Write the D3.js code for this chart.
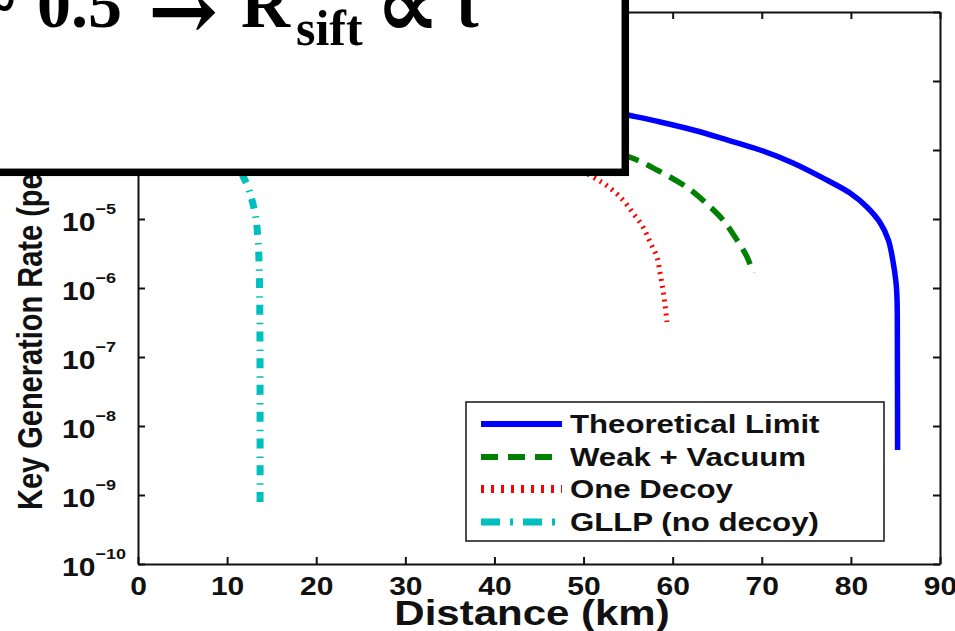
<!DOCTYPE html>
<html>
<head>
<meta charset="utf-8">
<script src="https://cdn.jsdelivr.net/npm/d3@7"></script>
<style>
  body { margin: 0; background: #fff; }
  svg { display: block; }
  .lab { font-family: "Liberation Sans", Arial, Helvetica, sans-serif; font-weight: bold; fill: #111; }
</style>
</head>
<body>
<svg id="chart" width="955" height="631"></svg>
<script>
// Key generation rate (per pulse) against fibre distance (km)
const distanceTicks = [0, 10, 20, 30, 40, 50, 60, 70, 80, 90];
const rateTickExponents = [-10, -9, -8, -7, -6, -5, -4, -3, -2];

const seriesNames = ["Theoretical Limit", "Weak + Vacuum", "One Decoy", "GLLP (no decoy)"];

// [distance km, key rate]
const theoreticalLimit = [
  [0, 6.31e-3], [10, 3.55e-3], [20, 2.09e-3], [30, 1.26e-3], [40, 7.94e-4],
  [50, 4.37e-4], [55.0, 3.21e-4], [58.6, 2.55e-4], [62.3, 1.95e-4], [66.1, 1.40e-4],
  [69.8, 1.00e-4], [73.5, 6.49e-5], [77.3, 3.67e-5], [79.9, 2.38e-5],
  [81.8, 1.49e-5], [83.3, 8.75e-6], [84.2, 4.97e-6], [84.7, 2.55e-6],
  [85.07, 1.18e-6], [85.18, 6.70e-7], [85.22, 1.0e-7], [85.24, 4.49e-9]
];
const weakVacuum = [
  [0, 2.00e-3], [10, 1.12e-3], [20, 6.31e-4], [30, 3.72e-4], [40, 2.19e-4],
  [50, 1.26e-4], [55.44, 7.66e-5], [58.24, 5.13e-5], [61.72, 2.81e-5],
  [63.97, 1.60e-5], [65.65, 9.68e-6], [67.0, 5.48e-6], [68.35, 2.81e-6],
  [69.02, 1.65e-6]
];
const oneDecoy = [
  [0, 1.26e-3], [10, 7.08e-4], [20, 3.98e-4], [30, 2.29e-4], [40, 1.26e-4],
  [47, 7.59e-5], [51.06, 4.06e-5], [52.97, 2.81e-5], [54.43, 1.88e-5],
  [55.55, 1.22e-5], [56.67, 7.66e-6], [57.46, 4.65e-6], [58.24, 2.81e-6],
  [58.58, 1.65e-6], [58.92, 9.35e-7], [59.14, 5.68e-7], [59.36, 3.21e-7]
];
const gllpNoDecoy = [
  [0, 5.01e-4], [4, 3.55e-4], [8, 2.00e-4], [10.5, 1.00e-4], [11.78, 4.20e-5],
  [12.34, 2.91e-5], [13.13, 1.22e-5], [13.47, 4.97e-6], [13.6, 2.00e-6],
  [13.68, 2.51e-7], [13.7, 7.59e-10]
];

const svg = d3.select("#chart");
const W = 955, H = 631;
const plot = { left: 138, right: 940, top: 12, bottom: 564 };

const x = d3.scaleLinear().domain([0, 90]).range([plot.left, plot.right]);
const y = d3.scaleLog().domain([1e-10, 1e-2]).range([plot.bottom, plot.top]);

svg.append("rect").attr("width", W).attr("height", H).attr("fill", "#fff");

// widen glyphs horizontally about the text anchor
function widen(sel, k) {
  sel.each(function () {
    const t = d3.select(this);
    const ax = +t.attr("x") || 0;
    t.attr("transform", `translate(${ax * (1 - k)},0) scale(${k},1)`);
  });
}
const K = 1.2;

svg.append("defs").append("clipPath").attr("id", "plotClip")
  .append("rect")
  .attr("x", plot.left).attr("y", plot.top)
  .attr("width", plot.right - plot.left).attr("height", plot.bottom - plot.top);

// Axes (ticks point inward on all four sides)
const axisStyle = g => {
  g.select(".domain").attr("stroke", "#111").attr("stroke-width", 2);
  g.selectAll(".tick line").attr("stroke", "#111").attr("stroke-width", 2);
};

const gx = svg.append("g")
  .attr("transform", `translate(0,${plot.bottom})`)
  .call(d3.axisBottom(x).tickValues(distanceTicks).tickSizeInner(-7).tickSizeOuter(0).tickPadding(31))
  .call(axisStyle);
gx.selectAll(".tick text")
  .attr("class", "lab").attr("font-size", 25).attr("dy", null).attr("y", 31).attr("x", 0)
  .attr("font-family", null)
  .call(widen, K);

svg.append("g")
  .attr("transform", `translate(0,${plot.top})`)
  .call(d3.axisTop(x).tickValues(distanceTicks).tickSizeInner(-7).tickSizeOuter(0).tickFormat(""))
  .call(axisStyle);

const yTickValues = rateTickExponents.map(e => Math.pow(10, e));
const gy = svg.append("g")
  .attr("transform", `translate(${plot.left},0)`)
  .call(d3.axisLeft(y).tickValues(yTickValues).tickSizeInner(-7).tickSizeOuter(0))
  .call(axisStyle);
gy.selectAll(".tick text").each(function (d) {
  const t = d3.select(this);
  const e = Math.round(Math.log10(d));
  t.text(null)
    .attr("class", "lab").attr("font-family", null)
    .attr("text-anchor", "start").attr("x", -76).attr("y", 11).attr("dy", null)
    .attr("font-size", 25);
  t.append("tspan").text("10");
  t.append("tspan").attr("dy", -17).attr("font-size", 15).text("\u2212" + Math.abs(e));
}).call(widen, K);

svg.append("g")
  .attr("transform", `translate(${plot.right},0)`)
  .call(d3.axisRight(y).tickValues(yTickValues).tickSizeInner(-7).tickSizeOuter(0).tickFormat(""))
  .call(axisStyle);

// Axis titles
svg.append("text").attr("class", "lab")
  .attr("x", 532).attr("y", 625).attr("text-anchor", "middle").attr("font-size", 35)
  .text("Distance (km)")
  .call(widen, K);

svg.append("text").attr("class", "lab")
  .attr("transform", "translate(42,510) rotate(-90) scale(1,1.2)")
  .attr("font-size", 29)
  .text("Key Generation Rate (per pulse)");

// Curves
const series = [
  { name: seriesNames[0], data: theoreticalLimit, color: "#0000ff", width: 5.5, dash: null,
    legendWidth: 6, legendDash: null },
  { name: seriesNames[1], data: weakVacuum, color: "#008000", width: 5.5, dash: "17,9",
    legendWidth: 6, legendDash: "17,10" },
  { name: seriesNames[2], data: oneDecoy, color: "#ff0000", width: 5, dash: "2,5",
    legendWidth: 8, legendDash: "3,7" },
  { name: seriesNames[3], data: gllpNoDecoy, color: "#00bfbf", width: 7, dash: "10,8,1.5,7.2",
    legendWidth: 7, legendDash: "19,10,3,10" }
];

const line = d3.line()
  .x(d => x(d[0]))
  .y(d => y(d[1]))
  .curve(d3.curveCatmullRom.alpha(0.5));

const curves = svg.append("g").attr("clip-path", "url(#plotClip)");
series.forEach(s => {
  curves.append("path")
    .attr("d", line(s.data))
    .attr("fill", "none")
    .attr("stroke", s.color)
    .attr("stroke-width", s.width)
    .attr("stroke-dasharray", s.dash)
    .attr("stroke-linejoin", "round");
});

// Legend
const lg = svg.append("g");
lg.append("rect")
  .attr("x", 466).attr("y", 402).attr("width", 418).attr("height", 139)
  .attr("fill", "#fff").attr("stroke", "#222").attr("stroke-width", 1.6);
const rowY = [424, 457, 489, 522];
series.forEach((s, i) => {
  lg.append("line")
    .attr("x1", 481).attr("x2", 562).attr("y1", rowY[i]).attr("y2", rowY[i])
    .attr("stroke", s.color).attr("stroke-width", s.legendWidth)
    .attr("stroke-dasharray", s.legendDash);
  lg.append("text").attr("class", "lab")
    .attr("x", 570).attr("y", rowY[i] + 9).attr("font-size", 26)
    .text(s.name)
    .call(widen, K);
});

// Annotation panel laid over the upper-left corner
const note = svg.append("g");
note.append("rect")
  .attr("x", -20).attr("y", -20).attr("width", 645.3).attr("height", 192.3)
  .attr("fill", "#fff").attr("stroke", "#000").attr("stroke-width", 7.5);
const noteText = note.append("text")
  .attr("font-family", "'Liberation Serif', 'Times New Roman', serif")
  .attr("font-weight", "bold").attr("fill", "#000")
  .attr("font-size", 68);
noteText.append("tspan").attr("x", -21).attr("y", 27).text("~");
noteText.append("tspan").attr("x", 37).attr("y", 27).text("0.5");
noteText.append("tspan").attr("x", 148).attr("y", 40)
  .attr("font-family", "'DejaVu Serif', serif").attr("font-size", 84).text("\u2192");
noteText.append("tspan").attr("x", 241).attr("y", 27).text("R");
noteText.append("tspan").attr("x", 296).attr("y", 45).attr("font-size", 50).text("sift");
noteText.append("tspan").attr("x", 376).attr("y", 36)
  .attr("font-family", "'DejaVu Sans', sans-serif").attr("font-weight", "bold")
  .attr("font-size", 90).text("\u221D");
noteText.append("tspan").attr("x", 456).attr("y", 27).text("t");
</script>
</body>
</html>
